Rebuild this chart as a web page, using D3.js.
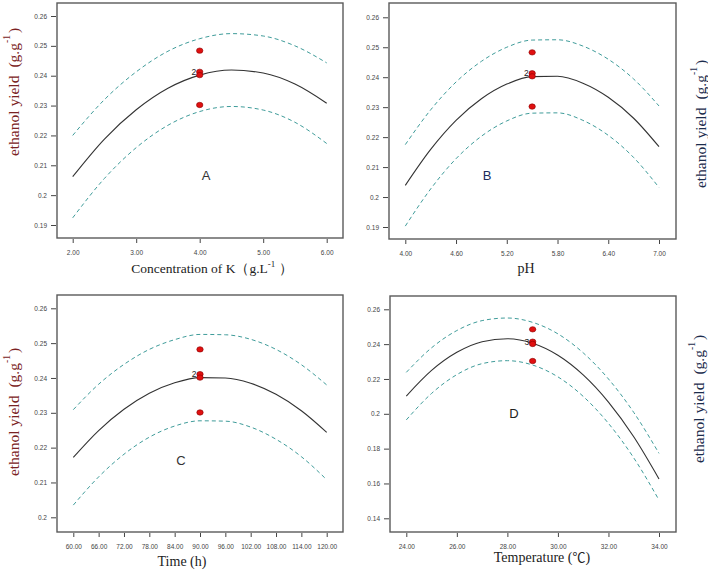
<!DOCTYPE html>
<html>
<head>
<meta charset="utf-8">
<script src="https://cdn.jsdelivr.net/npm/d3@7"></script>
<style>
  body { margin: 0; background: #fff; }
  svg { display: block; }
</style>
</head>
<body>
<svg id="chart" width="708" height="570"></svg>
<script>
// ---------------- DATA ----------------
// Panel A: Concentration of K
const xA = [2.0, 2.5, 3.0, 3.5, 4.0, 4.5, 5.0, 5.5, 6.0];
const predA = [0.2062, 0.2188, 0.2286, 0.2358, 0.2402, 0.2419, 0.2409, 0.2372, 0.2308];
const upperA = [0.2200, 0.2320, 0.2413, 0.2482, 0.2524, 0.2541, 0.2533, 0.2500, 0.2443];
const lowerA = [0.1924, 0.2056, 0.2159, 0.2234, 0.2280, 0.2297, 0.2285, 0.2244, 0.2173];
const ptXA = 4.0;
const ptYA = [0.2484, 0.2413, 0.2402, 0.2302];
const xTicksA = [2.0, 3.0, 4.0, 5.0, 6.0];
const yTicksA = [0.19, 0.20, 0.21, 0.22, 0.23, 0.24, 0.25, 0.26];

// Panel B: pH
const xB = [4.0, 4.3, 4.6, 4.9, 5.2, 5.5, 5.8, 6.1, 6.4, 6.7, 7.0];
const predB = [0.2039, 0.2159, 0.2256, 0.2328, 0.2377, 0.2402, 0.2403, 0.2380, 0.2333, 0.2263, 0.2168];
const upperB = [0.2175, 0.2291, 0.2384, 0.2453, 0.2500, 0.2524, 0.2525, 0.2504, 0.2460, 0.2394, 0.2304];
const lowerB = [0.1903, 0.2027, 0.2128, 0.2203, 0.2254, 0.2280, 0.2281, 0.2256, 0.2206, 0.2132, 0.2032];
const ptXB = 5.5;
const ptYB = [0.2483, 0.2413, 0.2403, 0.2302];
const xTicksB = [4.0, 4.6, 5.2, 5.8, 6.4, 7.0];
const yTicksB = [0.19, 0.20, 0.21, 0.22, 0.23, 0.24, 0.25, 0.26];

// Panel C: Time
const xC = [60, 66, 72, 78, 84, 90, 96, 102, 108, 114, 120];
const predC = [0.2172, 0.2249, 0.2310, 0.2356, 0.2386, 0.2401, 0.2400, 0.2385, 0.2353, 0.2306, 0.2244];
const upperC = [0.2309, 0.2382, 0.2439, 0.2482, 0.2510, 0.2525, 0.2524, 0.2511, 0.2482, 0.2438, 0.2380];
const lowerC = [0.2035, 0.2116, 0.2181, 0.2230, 0.2262, 0.2277, 0.2276, 0.2259, 0.2224, 0.2174, 0.2108];
const ptXC = 90;
const ptYC = [0.2482, 0.2411, 0.2401, 0.2301];
const xTicksC = [60, 66, 72, 78, 84, 90, 96, 102, 108, 114, 120];
const yTicksC = [0.20, 0.21, 0.22, 0.23, 0.24, 0.25, 0.26];

// Panel D: Temperature
const xD = [24, 25, 26, 27, 28, 29, 30, 31, 32, 33, 34];
const predD = [0.2102, 0.2249, 0.2353, 0.2414, 0.2431, 0.2405, 0.2336, 0.2223, 0.2067, 0.1868, 0.1626];
const upperD = [0.2238, 0.2379, 0.2478, 0.2535, 0.2550, 0.2525, 0.2459, 0.2350, 0.2200, 0.2008, 0.1773];
const lowerD = [0.1965, 0.2117, 0.2225, 0.2288, 0.2305, 0.2280, 0.2212, 0.2100, 0.1945, 0.1747, 0.1505];
const ptXD = 29;
const ptYD = [0.2485, 0.2414, 0.2401, 0.2303];
const xTicksD = [24, 26, 28, 30, 32, 34];
const yTicksD = [0.14, 0.16, 0.18, 0.20, 0.22, 0.24, 0.26];

const yTitleMain = "ethanol yield";
const yTitleUnit = "(g.g";
const panelLetters = ["A", "B", "C", "D"];

// ---------------- LAYOUT ----------------
const panels = [
  { x: xA, pred: predA, up: upperA, lo: lowerA, px: ptXA, py: ptYA, xt: xTicksA, yt: yTicksA,
    xDom: [2, 6], xRange: [72.7, 326.7], yDom: [0.19, 0.26], yRange: [225, 16],
    frame: [57, 3, 343, 238],
    xTitle: [{t: "Concentration of K（g.L"}, {t: "-1", sup: true}, {t: " ）"}], xTitlePos: [212, 273], xTitleSize: 13.5,
    yTitlePos: [13, 92], yTitleColor: "#7a2222", letterPos: [206, 180], letterColor: "#333" , repLabel: "2"},
  { x: xB, pred: predB, up: upperB, lo: lowerB, px: ptXB, py: ptYB, xt: xTicksB, yt: yTicksB,
    xDom: [4, 7], xRange: [405.3, 659], yDom: [0.19, 0.26], yRange: [227, 17.3],
    frame: [389, 3, 676, 239],
    xTitle: [{t: "pH"}], xTitlePos: [526, 273], xTitleSize: 14,
    yTitlePos: [700, 124], yTitleColor: "#1c2c4c", letterPos: [487, 180], letterColor: "#1c2c5c", repLabel: "2"},
  { x: xC, pred: predC, up: upperC, lo: lowerC, px: ptXC, py: ptYC, xt: xTicksC, yt: yTicksC,
    xDom: [60, 120], xRange: [73.3, 326.7], yDom: [0.20, 0.26], yRange: [517.3, 308.3],
    frame: [57, 295, 343, 532],
    xTitle: [{t: "Time (h)"}], xTitlePos: [182, 566], xTitleSize: 14,
    yTitlePos: [13, 412], yTitleColor: "#7a2222", letterPos: [181, 465], letterColor: "#333", repLabel: "2"},
  { x: xD, pred: predD, up: upperD, lo: lowerD, px: ptXD, py: ptYD, xt: xTicksD, yt: yTicksD,
    xDom: [24, 34], xRange: [406.3, 659], yDom: [0.14, 0.26], yRange: [518.3, 309.3],
    frame: [390, 296, 676, 532],
    xTitle: [{t: "Temperature ("}, {t: "℃", cjk: true}, {t: ")"}], xTitlePos: [542, 562], xTitleSize: 14,
    yTitlePos: [698, 399], yTitleColor: "#1c2c4c", letterPos: [514, 418], letterColor: "#222", repLabel: "3"}
];

const svg = d3.select("#chart");
const frameColor = "#5a5a5a";
const bandColor = "#3f9c9a";
const serif = "'Liberation Serif', 'Times New Roman', serif";
const sans = "'Liberation Sans', Arial, sans-serif";

panels.forEach((p, i) => {
  const g = svg.append("g");
  const xs = d3.scaleLinear().domain(p.xDom).range(p.xRange);
  const ys = d3.scaleLinear().domain(p.yDom).range(p.yRange);
  const [fx0, fy0, fx1, fy1] = p.frame;

  // frame
  g.append("rect").attr("x", fx0).attr("y", fy0)
    .attr("width", fx1 - fx0).attr("height", fy1 - fy0)
    .attr("fill", "none").attr("stroke", frameColor).attr("stroke-width", 1.4);

  // y axis
  const yAxis = d3.axisLeft(ys).tickValues(p.yt).tickSize(5).tickPadding(4)
    .tickFormat(d => String(+d.toFixed(2)));
  const ya = g.append("g").attr("transform", `translate(${fx0 - 1},0)`).call(yAxis);
  ya.select(".domain").remove();
  ya.selectAll("line").attr("stroke", "#444").attr("stroke-width", 1);
  ya.selectAll("text").attr("font-family", sans).attr("font-size", 6.5).attr("fill", "#444");

  // x axis
  const xAxis = d3.axisBottom(xs).tickValues(p.xt).tickSize(4).tickPadding(7)
    .tickFormat(d => d.toFixed(2));
  const xa = g.append("g").attr("transform", `translate(0,${fy1 + 1})`).call(xAxis);
  xa.select(".domain").remove();
  xa.selectAll("line").attr("stroke", "#444").attr("stroke-width", 1);
  xa.selectAll("text").attr("font-family", sans).attr("font-size", 6.5).attr("fill", "#444");

  const line = d3.line().x((d, k) => xs(p.x[k])).y(d => ys(d)).curve(d3.curveMonotoneX);

  g.append("path").datum(p.up).attr("d", line).attr("fill", "none")
    .attr("stroke", bandColor).attr("stroke-width", 1).attr("stroke-dasharray", "4,3");
  g.append("path").datum(p.lo).attr("d", line).attr("fill", "none")
    .attr("stroke", bandColor).attr("stroke-width", 1).attr("stroke-dasharray", "4,3");
  g.append("path").datum(p.pred).attr("d", line).attr("fill", "none")
    .attr("stroke", "#333").attr("stroke-width", 1.1);

  // design points
  g.selectAll("ellipse.pt").data(p.py).enter().append("ellipse")
    .attr("cx", xs(p.px)).attr("cy", d => ys(d))
    .attr("rx", 3.2).attr("ry", 2.7)
    .attr("fill", "#e01010").attr("stroke", "#8a0000").attr("stroke-width", 0.6);

  // replicate label
  g.append("text").attr("x", xs(p.px) - 3.5).attr("y", ys(p.py[1]) + 3)
    .attr("text-anchor", "end").attr("font-family", sans).attr("font-size", 8.5)
    .attr("fill", "#222").text(p.repLabel);

  // panel letter
  g.append("text").attr("x", p.letterPos[0]).attr("y", p.letterPos[1])
    .attr("text-anchor", "middle").attr("font-family", sans).attr("font-size", 13)
    .attr("fill", p.letterColor).text(panelLetters[i]);

  // x title
  const xt = g.append("text").attr("x", p.xTitlePos[0]).attr("y", p.xTitlePos[1])
    .attr("text-anchor", "middle").attr("font-family", serif).attr("font-size", p.xTitleSize)
    .attr("fill", "#222");
  let afterSup = false;
  p.xTitle.forEach(s => {
    const ts = xt.append("tspan").text(s.t);
    if (s.sup) { ts.attr("font-size", 9).attr("dy", -6); afterSup = true; }
    else if (afterSup) { ts.attr("dy", 6); afterSup = false; }
    if (s.cjk) ts.attr("font-family", "'Noto Sans CJK SC', sans-serif").attr("font-size", 13);
  });

  // y title
  const yt = g.append("text")
    .attr("transform", `translate(${p.yTitlePos[0]},${p.yTitlePos[1]}) rotate(-90)`)
    .attr("text-anchor", "middle").attr("dominant-baseline", "central")
    .attr("font-family", serif).attr("font-size", 15.5).attr("fill", p.yTitleColor);
  yt.append("tspan").text(yTitleMain);
  yt.append("tspan").attr("dx", 8).text(yTitleUnit);
  yt.append("tspan").attr("font-size", 9.5).attr("dy", -6).text("-1");
  yt.append("tspan").attr("dy", 6).attr("dx", 2).text(")");
});
</script>
</body>
</html>
